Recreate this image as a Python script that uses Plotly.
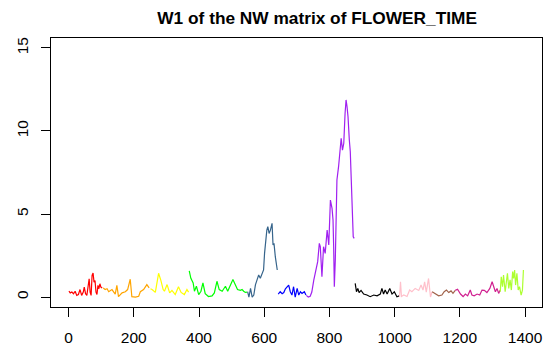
import plotly.graph_objects as go

colors = ["#FF0000", "#FFA500", "#FFFF00", "#00FF00", "#36648B", "#0000FF",
          "#A020F0", "#000000", "#FFC0CB", "#A0624A", "#D02090", "#ADFF2F"]

red_x = [1, 5, 10, 15, 20, 25, 30, 35, 40, 45, 48, 52, 56, 60, 63, 66, 69, 72, 75, 78, 81, 84, 87, 90, 93, 96, 99, 103]
red_y = [0.35, 0.25, 0.3, 0.2, 0.35, 0.1, 0.15, 0.45, 0.1, 0.3, 0.6, 0.2, 0.1, 0.9, 1.1, 0.3, 0.1, 1.3, 1.45, 0.9, 1.0, 0.3, 0.15, 0.7, 0.5, 0.8, 0.6, 0.55]

orange_x = [106, 112, 118, 123, 133, 143, 148, 153, 164, 174, 181, 189, 194, 205, 215, 220, 230, 240, 247]
orange_y = [0.55, 0.45, 0.5, 0.32, 0.45, 0.18, 0.7, 0.02, 0.25, 0.32, 0.45, 1.07, 0.02, 0.0, 0.05, 0.32, 0.45, 0.75, 0.55]

yellow_x = [251, 256, 266, 276, 283, 290, 294, 302, 310, 317, 327, 337, 345, 355, 363, 368]
yellow_y = [0.5, 0.45, 0.28, 1.43, 1.0, 0.45, 0.35, 0.75, 0.25, 0.4, 0.15, 0.62, 0.28, 0.15, 0.45, 0.3]

green_x = [370, 375, 382, 386, 392, 399, 406, 412, 419, 429, 440, 447, 455, 462, 471, 481, 488, 496, 504, 511, 518, 527, 532, 537, 542, 547]
green_y = [1.57, 1.13, 0.85, 0.35, 0.65, 0.15, 0.35, 0.85, 0.2, 0.03, 0.07, 0.25, 0.95, 0.45, 0.35, 0.65, 0.35, 0.7, 1.05, 0.75, 0.45, 0.4, 0.45, 0.35, 0.28, 0.3]

steel_x = [549, 553, 558, 563, 568, 573, 578, 583, 588, 593, 598, 601, 605, 608, 611, 615, 619, 624, 627, 630, 634, 640]
steel_y = [0.32, 0.0, 0.52, 0.0, 0.12, 0.73, 1.03, 1.33, 1.13, 1.43, 1.63, 2.63, 3.53, 4.03, 4.24, 3.83, 4.03, 4.44, 3.13, 3.23, 2.43, 1.63]

blue_x = [643, 649, 655, 660, 665, 670, 675, 680, 685, 690, 695, 701, 706, 711, 716, 723, 728]
blue_y = [0.18, 0.32, 0.2, 0.27, 0.5, 0.62, 0.72, 0.32, 0.12, 0.62, 0.0, 0.52, 0.12, 0.32, 0.22, 0.32, 0.12]

purple_x = [729, 735, 741, 746, 752, 757, 764, 769, 772, 777, 782, 787, 793, 798, 803, 808, 811, 813, 815, 818, 823, 828, 831, 836, 840, 844, 848, 851, 854, 857, 861, 864, 867, 870, 873, 876]
purple_y = [0.1, 0.0, 0.05, 0.3, 1.02, 1.53, 2.13, 3.23, 3.03, 1.22, 3.03, 2.63, 4.04, 3.13, 5.84, 5.34, 4.64, 3.03, 0.62, 2.23, 7.05, 7.85, 8.75, 9.56, 8.85, 9.26, 11.07, 11.87, 11.47, 10.87, 9.46, 8.75, 7.05, 5.04, 3.63, 3.53]

black_x = [879, 883, 887, 891, 897, 905, 915, 925, 936, 946, 956, 961, 966, 971, 977, 985, 992, 999, 1007, 1014]
black_y = [0.82, 0.32, 0.52, 0.27, 0.4, 0.18, 0.12, 0.02, 0.12, 0.07, 0.18, 0.52, 0.18, 0.42, 0.18, 0.52, 0.18, 0.32, 0.02, 0.07]

pink_x = [1015, 1018, 1021, 1028, 1038, 1046, 1053, 1063, 1074, 1081, 1087, 1092, 1097, 1104, 1110, 1115]
pink_y = [0.0, 0.92, 0.03, 0.12, 0.03, 0.42, 0.32, 0.52, 0.4, 0.72, 0.42, 0.92, 0.3, 1.12, 0.0, 0.32]

brown_x = [1115, 1125, 1135, 1145, 1152, 1159, 1166, 1173, 1179, 1186]
brown_y = [0.32, 0.18, 0.07, 0.12, 0.32, 0.42, 0.27, 0.37, 0.22, 0.4]

magenta_x = [1186, 1193, 1202, 1210, 1217, 1224, 1232, 1237, 1244, 1253, 1261, 1268, 1275, 1283, 1292, 1299, 1304, 1309, 1314, 1319, 1324]
magenta_y = [0.4, 0.47, 0.18, 0.03, 0.18, 0.07, 0.42, 0.12, 0.07, 0.18, 0.12, 0.42, 0.4, 0.27, 0.52, 0.92, 0.62, 0.32, 0.52, 0.22, 0.42]

gy_x = [1324, 1327, 1331, 1334, 1339, 1343, 1346, 1350, 1354, 1358, 1362, 1365, 1368, 1371, 1375, 1379, 1383, 1388, 1392, 1395]
gy_y = [0.32, 1.22, 0.62, 1.33, 0.32, 1.12, 1.43, 0.52, 1.03, 0.42, 1.53, 1.12, 1.63, 0.72, 1.43, 0.42, 0.62, 0.12, 0.42, 1.63]

segments = [(red_x, red_y), (orange_x, orange_y), (yellow_x, yellow_y), (green_x, green_y),
            (steel_x, steel_y), (blue_x, blue_y), (purple_x, purple_y), (black_x, black_y),
            (pink_x, pink_y), (brown_x, brown_y), (magenta_x, magenta_y), (gy_x, gy_y)]

x_ticks = [0, 200, 400, 600, 800, 1000, 1200, 1400]
y_ticks = [0, 5, 10, 15]

fig = go.Figure()
for (xs, ys), c in zip(segments, colors):
    fig.add_trace(go.Scatter(x=xs, y=ys, mode="lines", line=dict(color=c, width=1.2),
                             showlegend=False, hoverinfo="skip"))

font = "Liberation Sans, Arial, Helvetica, sans-serif"
fig.update_layout(
    width=544, height=349,
    margin=dict(l=51, r=2, t=38, b=42),
    paper_bgcolor="white", plot_bgcolor="white",
    font=dict(family=font, size=15, color="black"),
    title=dict(text="<b>W1 of the NW matrix of FLOWER_TIME</b>", x=0.583, xanchor="center",
               y=0.95, yanchor="middle", font=dict(size=17.3, family=font, color="black")),
    xaxis=dict(range=[-54, 1452], tickvals=x_ticks, ticktext=[str(v) for v in x_ticks],
               showgrid=False, zeroline=False, showline=True, mirror=True, linecolor="black",
               linewidth=1, ticks="outside", ticklen=9, tickcolor="black", tickwidth=1,
               tickfont=dict(size=15.5), ticklabelstandoff=7),
    yaxis=dict(range=[-0.6, 15.6], tickvals=y_ticks, ticktext=[str(v) for v in y_ticks],
               showgrid=False, zeroline=False, showline=True, mirror=True, linecolor="black",
               linewidth=1, ticks="outside", ticklen=9, tickcolor="black", tickwidth=1,
               tickangle=-90, tickfont=dict(size=15.5), ticklabelstandoff=7),
)

fig.write_html("out.html")
